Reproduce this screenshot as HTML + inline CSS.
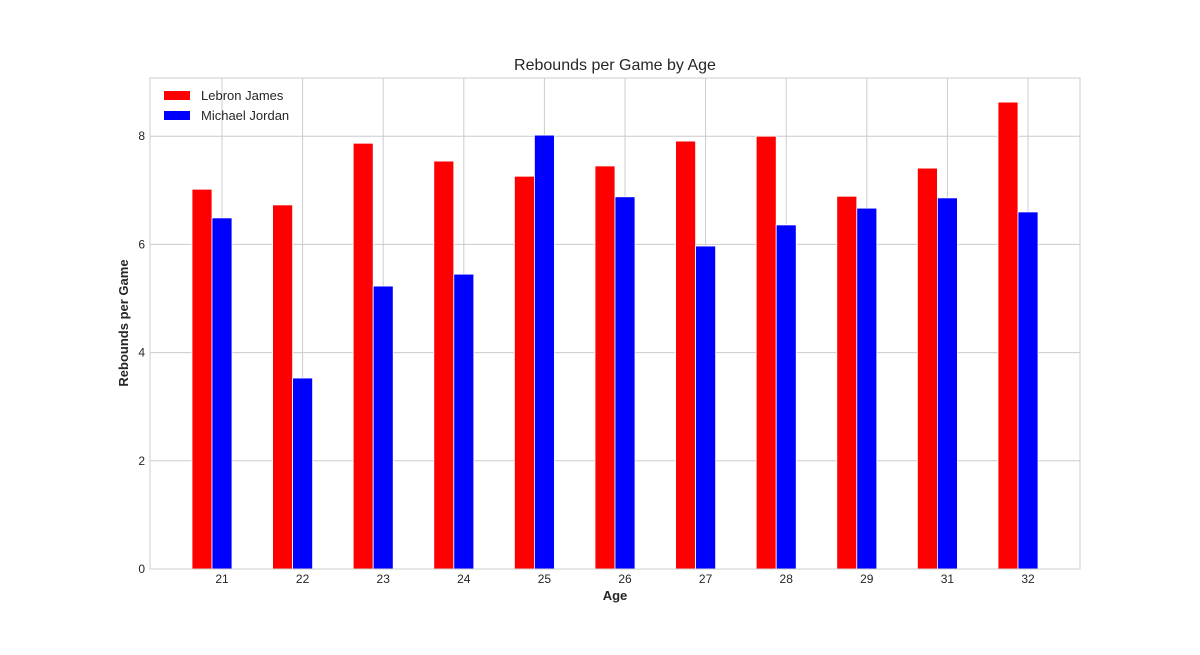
<!DOCTYPE html>
<html><head><meta charset="utf-8"><style>
body{margin:0;background:#fff;}
svg text{font-family:"Liberation Sans",sans-serif;fill:#262626;}
</style></head><body>
<svg id="chart" width="1200" height="650"></svg>
<script>
const ages = ["21","22","23","24","25","26","27","28","29","31","32"];
const lebron = [7.02,6.73,7.87,7.54,7.26,7.45,7.91,8.0,6.89,7.41,8.63];
const jordan = [6.49,3.53,5.23,5.45,8.02,6.88,5.97,6.36,6.67,6.86,6.6];
const yTicks = [0,2,4,6,8];

const svg = document.getElementById('chart');
const NS = 'http://www.w3.org/2000/svg';
const L=150,R=1080,T=78,B=569;
const xPos = i => 222 + i*80.6;
const yPos = v => B - v*54.1;
function mk(tag, attrs, parent){const e=document.createElementNS(NS,tag);for(const k in attrs)e.setAttribute(k,attrs[k]);(parent||svg).appendChild(e);return e;}

// gridlines
yTicks.forEach(v=>{
  const g=mk('line',{x1:L,x2:R,y1:yPos(v),y2:yPos(v),stroke:'#cccccc','stroke-width':1});
  
  
  const t=mk('text',{x:L-5,y:yPos(v)+4,'text-anchor':'end','font-size':12});
  t.textContent=v;
  
  
});
ages.forEach((a,i)=>{
  const g=mk('line',{x1:xPos(i),x2:xPos(i),y1:T,y2:B,stroke:'#cccccc','stroke-width':1});
  
  
  const t=mk('text',{x:xPos(i),y:B+14,'text-anchor':'middle','font-size':12});
  t.textContent=a;
  
  
});
// bars
ages.forEach((a,i)=>{
  const r=mk('rect',{x:xPos(i)-30,y:yPos(lebron[i]),width:20,height:yPos(0)-yPos(lebron[i]),fill:'#ff0000',stroke:'#fff','stroke-width':0.8});
  
  
  const b=mk('rect',{x:xPos(i)-10,y:yPos(jordan[i]),width:20,height:yPos(0)-yPos(jordan[i]),fill:'#0000ff',stroke:'#fff','stroke-width':0.8});
  
  
});
// frame
const f=mk('rect',{x:L,y:T,width:R-L,height:B-T,fill:'none',stroke:'#cccccc','stroke-width':1});


// titles
const title=mk('text',{x:615,y:70,'text-anchor':'middle','font-size':16});
title.textContent='Rebounds per Game by Age';


const xt=mk('text',{x:615,y:600,'text-anchor':'middle','font-size':13,'font-weight':'bold'});
xt.textContent='Age';


const yt=mk('text',{x:128,y:323,'text-anchor':'middle','font-size':13,'font-weight':'bold',transform:'rotate(-90 128 323)'});
yt.textContent='Rebounds per Game';


// legend
[['Lebron James','#ff0000',96],['Michael Jordan','#0000ff',116]].forEach(([n,c,y])=>{
  const s=mk('rect',{x:164,y:y-5,width:26,height:9,fill:c});
  
  
  const t=mk('text',{x:201,y:y+4,'font-size':13});
  t.textContent=n;
  
  
});
</script>
</body></html>
